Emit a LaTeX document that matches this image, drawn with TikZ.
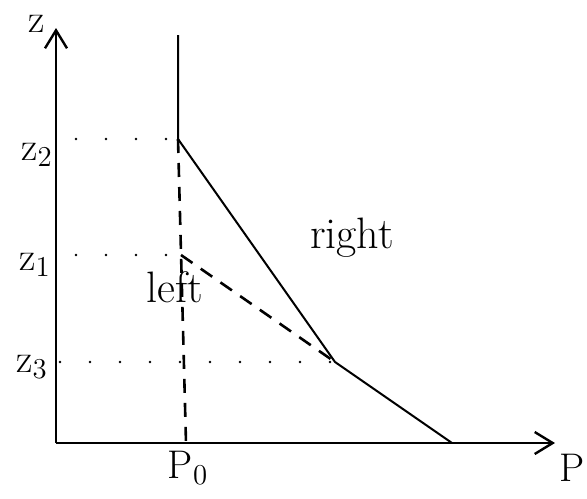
\documentclass[tikz,border=0pt]{standalone}
\usepackage{tikz}
\usetikzlibrary{arrows.meta,positioning}
\tikzset{
  axisline/.style={line width=1.2pt, -{Straight Barb[length=9pt,width=11pt]}},
  curveline/.style={line width=1pt},
  dashline/.style={line width=1.3pt, dash pattern=on 7pt off 5pt},
  guideline/.style={line width=1.3pt, line cap=round, dash pattern=on 0pt off 15pt},
  axislabel/.style={font=\fontsize{20}{22}\selectfont, inner sep=0pt},
  regionlabel/.style={font=\fontsize{22}{24}\selectfont, inner sep=0pt},
}
\begin{document}
\begin{tikzpicture}[x=0.5pt, y=-0.5pt]
  \useasboundingbox (0,0) rectangle (587,498);
  % axes
  \coordinate (origin) at (56,443);
  \coordinate (zend) at (56,28);
  \coordinate (pend) at (555,443);
  \draw[axisline] (origin) -- (zend);
  \draw[axisline] (origin) -- (pend);
  % boundary
  \coordinate (top) at (178,35);
  \coordinate (kink2) at (178,139);
  \coordinate (kink1) at (181,255);
  \coordinate (kink3) at (335,362);
  \coordinate (foot) at (452,443);
  \coordinate (base) at (186,443);
  \draw[curveline] (top) -- (kink2) -- (kink3) -- (foot);
  \draw[dashline] (kink2) -- (base);
  \draw[dashline] (kink1) -- (kink3);
  % guides
  \draw[guideline, shorten <=10pt] (origin |- kink2) -- (kink2);
  \draw[guideline, shorten <=10pt] (origin |- kink1) -- (kink1);
  \draw[guideline, shorten <=2pt] (origin |- kink3) -- (kink3);
  % labels
  \node[axislabel] (zlab) at (37,24) {z};
  \node[axislabel] (plab) at (572,468) {P};
  \node[axislabel] (z2lab) at (37,155) {z$_2$};
  \node[axislabel] (z1lab) at (35,265) {z$_1$};
  \node[axislabel] (z3lab) at (32,367) {z$_3$};
  \node[axislabel] (p0lab) at (188,468) {P$_0$};
  \node[regionlabel] (leftlab) at (175,287) {left};
  \node[regionlabel] (rightlab) at (352,238) {right};
\end{tikzpicture}
\end{document}
